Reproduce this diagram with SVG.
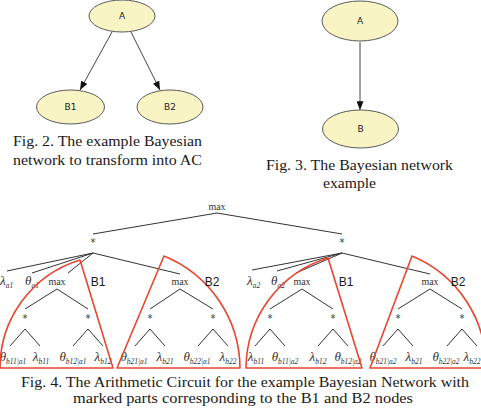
<svg xmlns="http://www.w3.org/2000/svg" width="481" height="408" viewBox="0 0 481 408">
<style>
.bn ellipse{fill:#f8f4c4;stroke:#5a5a5a;stroke-width:1}
.bn text{font-family:"DejaVu Sans",sans-serif;font-size:9px;fill:#222;text-anchor:middle}
.cap{font-family:"Liberation Serif",serif;font-size:15px;fill:#1a1a1a}
.edge{stroke:#444;stroke-width:1;fill:none}
.ac{stroke:#333;stroke-width:1;fill:none}
.red{stroke:#e8452f;stroke-width:1.6;fill:none;stroke-linejoin:round}
.op{font-family:"Liberation Serif",serif;font-size:10px;fill:#333;text-anchor:middle}
.st{font-family:"DejaVu Sans",sans-serif;font-size:10px;fill:#333;text-anchor:middle}
.g{font-family:"Liberation Serif",serif;font-style:italic;font-size:13px;fill:#333}
.m{text-anchor:middle}
.s{font-size:7.5px}
.lb{font-family:"Liberation Sans",sans-serif;font-size:12px;fill:#1a1a1a;text-anchor:middle}
</style>
<defs>
<marker id="arr" viewBox="0 0 10 8" refX="10" refY="4" markerWidth="9" markerHeight="7" markerUnits="userSpaceOnUse" orient="auto">
<path d="M0,0 L10,4 L0,8 Z" fill="#111"/>
</marker>
</defs>

<!-- Fig. 2 -->
<g id="fig2-edges">
<line class="edge" x1="112" y1="32" x2="80" y2="90" marker-end="url(#arr)"/>
<line class="edge" x1="131" y1="32" x2="160" y2="90" marker-end="url(#arr)"/>
</g>
<g id="fig2-A" class="bn"><ellipse cx="122" cy="16" rx="33" ry="16"/><text x="122" y="19">A</text></g>
<g id="fig2-B1" class="bn"><ellipse cx="70.5" cy="107" rx="34" ry="17"/><text x="70.5" y="110">B1</text></g>
<g id="fig2-B2" class="bn"><ellipse cx="170" cy="107" rx="33" ry="17"/><text x="170" y="110">B2</text></g>
<text class="cap" x="13" y="146" textLength="189" lengthAdjust="spacingAndGlyphs">Fig. 2. The example Bayesian</text>
<text class="cap" x="13" y="165" textLength="189" lengthAdjust="spacingAndGlyphs">network to transform into AC</text>

<!-- Fig. 3 -->
<g id="fig3-edges">
<line class="edge" x1="360" y1="42" x2="360" y2="110" marker-end="url(#arr)"/>
</g>
<g id="fig3-A" class="bn"><ellipse cx="360" cy="21" rx="38" ry="20"/><text x="360" y="24">A</text></g>
<g id="fig3-B" class="bn"><ellipse cx="360.5" cy="129" rx="38" ry="19"/><text x="360.5" y="132">B</text></g>
<text class="cap" x="266" y="170" textLength="187" lengthAdjust="spacingAndGlyphs">Fig. 3. The Bayesian network</text>
<text class="cap" x="323" y="188" textLength="53" lengthAdjust="spacingAndGlyphs">example</text>

<!-- Fig. 4 connectors -->
<g id="ac-connectors">
<line class="ac" x1="217" y1="213" x2="93" y2="234"/>
<line class="ac" x1="217" y1="213" x2="342" y2="234"/>
<line class="ac" x1="93" y1="253" x2="7" y2="271"/>
<line class="ac" x1="93" y1="253" x2="32" y2="273"/>
<line class="ac" x1="93" y1="253" x2="68" y2="273"/>
<line class="ac" x1="93" y1="253" x2="180" y2="274"/>
<line class="ac" x1="342" y1="253" x2="252" y2="270"/>
<line class="ac" x1="342" y1="253" x2="277" y2="271"/>
<line class="ac" x1="342" y1="253" x2="296" y2="273"/>
<line class="ac" x1="342" y1="253" x2="430" y2="274"/>
<line class="ac" x1="57" y1="289" x2="25" y2="309"/>
<line class="ac" x1="57" y1="289" x2="88" y2="309"/>
<line class="ac" x1="180" y1="289" x2="150" y2="309"/>
<line class="ac" x1="180" y1="289" x2="213" y2="309"/>
<line class="ac" x1="302" y1="289" x2="270" y2="309"/>
<line class="ac" x1="302" y1="289" x2="333" y2="309"/>
<line class="ac" x1="430" y1="289" x2="398" y2="309"/>
<line class="ac" x1="430" y1="289" x2="462" y2="309"/>
<path class="ac" d="M10,346 L25,329 L40,346 M73,346 L88,329 L103,346 M135,346 L150,329 L165,346 M198,346 L213,329 L228,346 M255,346 L270,329 L285,346 M318,346 L333,329 L348,346 M383,346 L398,329 L413,346 M447,346 L462,329 L477,346"/>
</g>

<!-- Fig. 4 nodes -->
<g id="ac-max-root"><text class="op" x="217" y="210">max</text></g>
<g id="ac-star-a1"><text class="st" x="93" y="246">*</text></g>
<g id="ac-star-a2"><text class="st" x="342" y="246">*</text></g>
<g id="ac-row1-left">
<text class="g" x="0" y="285">λ<tspan class="s" dy="3">a1</tspan></text>
<text class="g" x="25" y="285">θ<tspan class="s" dy="3">a1</tspan></text>
<text class="op" x="57" y="285">max</text>
<text class="op" x="180" y="285">max</text>
</g>
<g id="ac-row1-right">
<text class="g" x="247" y="285">λ<tspan class="s" dy="3">a2</tspan></text>
<text class="g" x="271" y="285">θ<tspan class="s" dy="3">a2</tspan></text>
<text class="op" x="302" y="285">max</text>
<text class="op" x="430" y="285">max</text>
</g>
<g id="ac-stars">
<text class="st" x="25" y="322">*</text>
<text class="st" x="88" y="322">*</text>
<text class="st" x="150" y="322">*</text>
<text class="st" x="213" y="322">*</text>
<text class="st" x="270" y="322">*</text>
<text class="st" x="333" y="322">*</text>
<text class="st" x="398" y="322">*</text>
<text class="st" x="462" y="322">*</text>
</g>
<g id="ac-leaves">
<text class="g m" x="13" y="361">θ<tspan class="s" dy="3">b11|a1</tspan></text>
<text class="g m" x="41" y="361">λ<tspan class="s" dy="3">b11</tspan></text>
<text class="g m" x="73" y="361">θ<tspan class="s" dy="3">b12|a1</tspan></text>
<text class="g m" x="103" y="361">λ<tspan class="s" dy="3">b12</tspan></text>
<text class="g m" x="134" y="361">θ<tspan class="s" dy="3">b21|a1</tspan></text>
<text class="g m" x="165" y="361">λ<tspan class="s" dy="3">b21</tspan></text>
<text class="g m" x="197" y="361">θ<tspan class="s" dy="3">b22|a1</tspan></text>
<text class="g m" x="228" y="361">λ<tspan class="s" dy="3">b22</tspan></text>
<text class="g m" x="256" y="361">λ<tspan class="s" dy="3">b11</tspan></text>
<text class="g m" x="285" y="361">θ<tspan class="s" dy="3">b11|a2</tspan></text>
<text class="g m" x="318" y="361">λ<tspan class="s" dy="3">b12</tspan></text>
<text class="g m" x="348" y="361">θ<tspan class="s" dy="3">b12|a2</tspan></text>
<text class="g m" x="383" y="361">θ<tspan class="s" dy="3">b21|a2</tspan></text>
<text class="g m" x="414" y="361">λ<tspan class="s" dy="3">b21</tspan></text>
<text class="g m" x="446" y="361">θ<tspan class="s" dy="3">b22|a2</tspan></text>
<text class="g m" x="472" y="361">λ<tspan class="s" dy="3">b22</tspan></text>
</g>

<!-- marked parts -->
<g id="part-B1-a1">
<path class="red" d="M113,368 L0,368 A113,113 0 0 1 80,260 Z"/>
<text class="lb" x="98" y="286">B1</text>
</g>
<g id="part-B2-a1">
<path class="red" d="M117,368 L164,256 A122,122 0 0 1 240,368 Z"/>
<text class="lb" x="212" y="286">B2</text>
</g>
<g id="part-B1-a2">
<path class="red" d="M362,368 L246,368 A116,116 0 0 1 328,258 Z"/>
<text class="lb" x="346" y="286">B1</text>
</g>
<g id="part-B2-a2">
<path class="red" d="M370,368 L412,256 A120,120 0 0 1 486,368 Z"/>
<text class="lb" x="458" y="286">B2</text>
</g>

<text class="cap" x="21" y="387" textLength="448" lengthAdjust="spacingAndGlyphs">Fig. 4. The Arithmetic Circuit for the example Bayesian Network with</text>
<text class="cap" x="73" y="403" textLength="340" lengthAdjust="spacingAndGlyphs">marked parts corresponding to the B1 and B2 nodes</text>
</svg>
